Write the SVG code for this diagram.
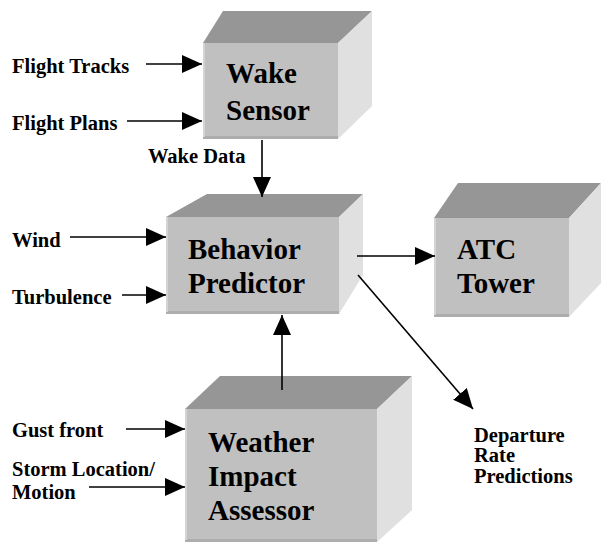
<svg xmlns="http://www.w3.org/2000/svg" width="601" height="544" viewBox="0 0 601 544">
<style>
.front{fill:#c0c0c0}
.top{fill:#969696}
.side{fill:#e0e0e0}
.rimb{stroke:#adadad;stroke-width:3}
.riml{stroke:#d4d4d4;stroke-width:2}
.big{font-family:"Liberation Serif","Times New Roman",serif;font-weight:bold;font-size:29px;fill:#000}
.lbl{font-family:"Liberation Serif","Times New Roman",serif;font-weight:bold;font-size:20.5px;fill:#000}
.conn line{stroke:#000;stroke-width:1.6;fill:none}
</style>
<defs>
<marker id="ah" viewBox="0 0 20 18" refX="20" refY="9" markerWidth="20" markerHeight="18" markerUnits="userSpaceOnUse" orient="auto">
<path d="M0,0 L20,9 L0,18 z" fill="#000"/>
</marker>
</defs>
<rect width="601" height="544" fill="#fff"/>

<g id="wake-sensor">
<polygon class="top" points="203,43 223,11 372,11 338,43"/>
<polygon class="side" points="338,43 372,11 372,106 338,139"/>
<rect class="front" x="203" y="43" width="135" height="96"/>
<line class="rimb" x1="203" y1="137.5" x2="338" y2="137.5"/>
<line class="riml" x1="204" y1="43" x2="204" y2="137"/>
<text class="big" x="226" y="83">Wake</text>
<text class="big" x="226" y="120">Sensor</text>
</g>

<g id="behavior-predictor">
<polygon class="top" points="166,217 207,194 363,194 339,217"/>
<polygon class="side" points="339,217 363,194 363,275 339,314"/>
<rect class="front" x="166" y="217" width="173" height="97"/>
<line class="rimb" x1="166" y1="312.5" x2="339" y2="312.5"/>
<line class="riml" x1="167" y1="217" x2="167" y2="312"/>
<text class="big" x="188" y="259">Behavior</text>
<text class="big" x="188" y="293">Predictor</text>
</g>

<g id="atc-tower">
<polygon class="top" points="434,218 458,183 601,183 569,218"/>
<polygon class="side" points="569,218 601,183 601,283 569,317"/>
<rect class="front" x="434" y="218" width="135" height="99"/>
<line class="rimb" x1="434" y1="315.5" x2="569" y2="315.5"/>
<line class="riml" x1="435" y1="218" x2="435" y2="315"/>
<text class="big" x="457" y="259">ATC</text>
<text class="big" x="457" y="293">Tower</text>
</g>

<g id="weather-impact-assessor">
<polygon class="top" points="185,409 220,376 412,376 377,409"/>
<polygon class="side" points="377,409 412,376 412,510 377,542"/>
<rect class="front" x="185" y="409" width="192" height="133"/>
<line class="rimb" x1="185" y1="540.5" x2="377" y2="540.5"/>
<line class="riml" x1="186" y1="409" x2="186" y2="540"/>
<text class="big" x="208" y="452">Weather</text>
<text class="big" x="208" y="486">Impact</text>
<text class="big" x="208" y="520">Assessor</text>
</g>

<g id="labels">
<text class="lbl" x="12" y="73">Flight Tracks</text>
<text class="lbl" x="12" y="130">Flight Plans</text>
<text class="lbl" x="148" y="163">Wake Data</text>
<text class="lbl" x="12" y="247">Wind</text>
<text class="lbl" x="12" y="304">Turbulence</text>
<text class="lbl" x="12" y="437">Gust front</text>
<text class="lbl" x="12" y="476">Storm Location/</text>
<text class="lbl" x="12" y="499">Motion</text>
<text class="lbl" x="474" y="442">Departure</text>
<text class="lbl" x="474" y="462">Rate</text>
<text class="lbl" x="474" y="483">Predictions</text>
</g>

<g id="connectors" class="conn">
<line x1="146" y1="64" x2="202" y2="64" marker-end="url(#ah)"/>
<line x1="127" y1="121" x2="202" y2="121" marker-end="url(#ah)"/>
<line x1="262" y1="140" x2="262" y2="197" marker-end="url(#ah)"/>
<line x1="70" y1="237" x2="166" y2="237" marker-end="url(#ah)"/>
<line x1="122" y1="295" x2="166" y2="295" marker-end="url(#ah)"/>
<line x1="357" y1="256" x2="435" y2="256" marker-end="url(#ah)"/>
<line x1="358" y1="275" x2="473" y2="409" marker-end="url(#ah)"/>
<line x1="282" y1="390" x2="282" y2="315" marker-end="url(#ah)"/>
<line x1="126" y1="429" x2="185" y2="429" marker-end="url(#ah)"/>
<line x1="89" y1="487" x2="185" y2="487" marker-end="url(#ah)"/>
</g>
</svg>
